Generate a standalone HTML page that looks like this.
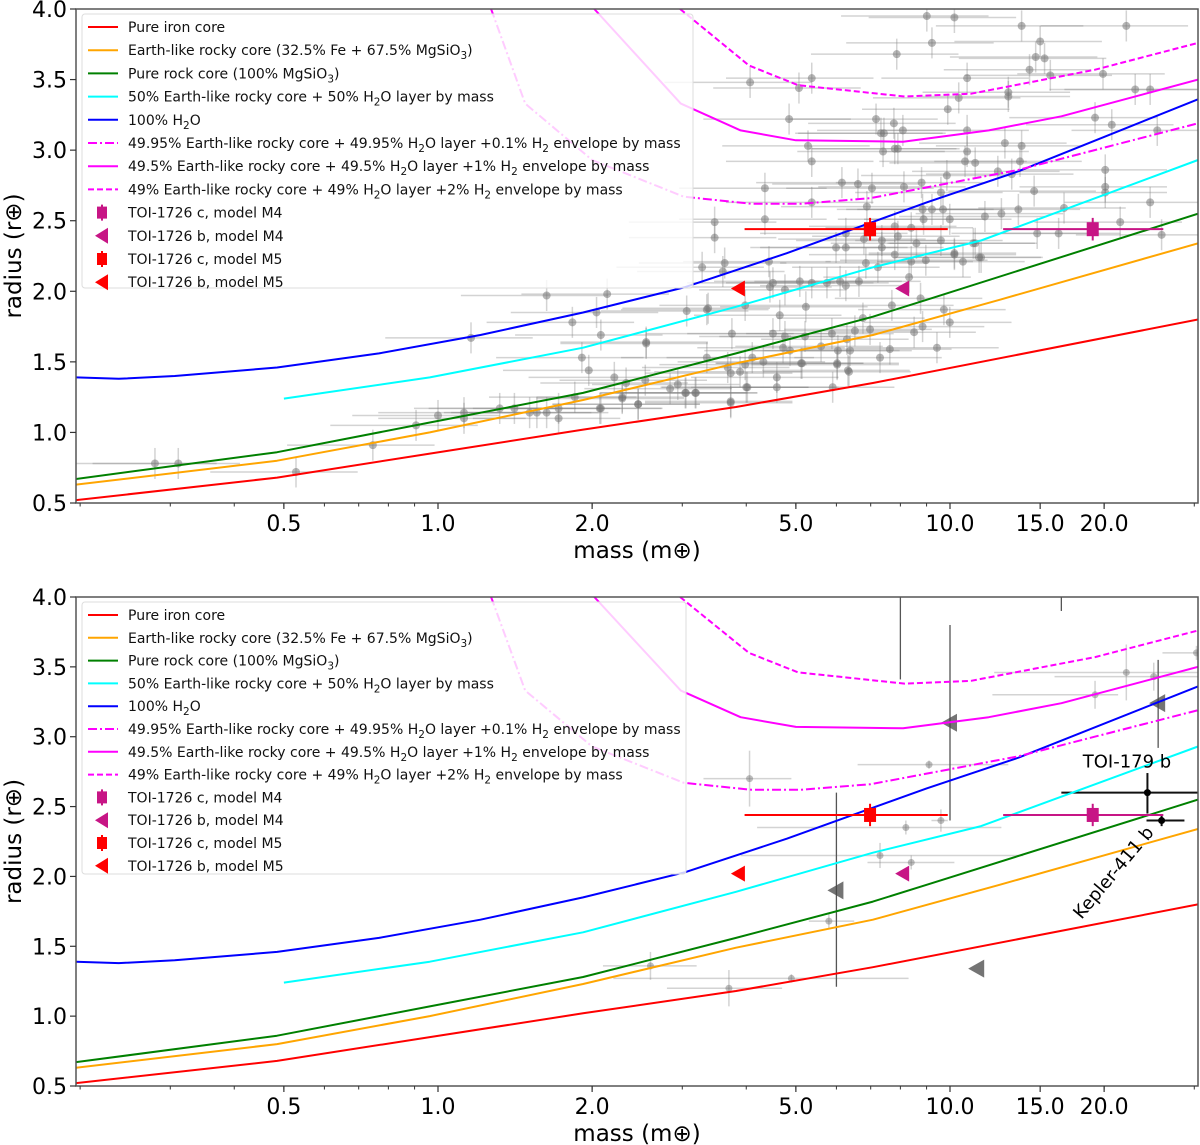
<!DOCTYPE html>
<html><head><meta charset="utf-8"><style>
html,body{margin:0;padding:0;background:#fff;}
svg{display:block;font-family:"DejaVu Sans","Liberation Sans",sans-serif;}
</style></head><body>
<svg id="chart" width="1200" height="1145" viewBox="0 0 1200 1145" xmlns="http://www.w3.org/2000/svg"></svg>
<script>
// ---------- data ----------
const xTickValues = [0.5, 1.0, 2.0, 5.0, 10.0, 15.0, 20.0];
const xTickLabels = ["0.5", "1.0", "2.0", "5.0", "10.0", "15.0", "20.0"];
const yTickValues = [0.5, 1.0, 1.5, 2.0, 2.5, 3.0, 3.5, 4.0];
const yTickLabels = ["0.5", "1.0", "1.5", "2.0", "2.5", "3.0", "3.5", "4.0"];

const ironMass = [0.196, 0.485, 0.964, 1.92, 3.82, 7.07, 30.5];
const ironRad = [0.52, 0.68, 0.85, 1.02, 1.18, 1.35, 1.80];
const earthMass = [0.196, 0.485, 0.964, 1.92, 3.82, 7.07, 12.5, 30.5];
const earthRad = [0.63, 0.80, 1.00, 1.23, 1.49, 1.69, 1.94, 2.34];
const rockMass = [0.196, 0.485, 0.964, 1.92, 3.82, 7.07, 9.0, 30.5];
const rockRad = [0.67, 0.86, 1.07, 1.28, 1.56, 1.82, 1.94, 2.55];
const halfMass = [0.5, 0.964, 1.92, 3.82, 7.07, 11.5, 30.5];
const halfRad = [1.24, 1.39, 1.60, 1.89, 2.17, 2.36, 2.93];
const waterMass = [0.196, 0.238, 0.306, 0.485, 0.767, 1.21, 1.92, 3.04, 4.80, 9.0, 13.6, 30.5];
const waterRad = [1.39, 1.38, 1.40, 1.46, 1.56, 1.69, 1.85, 2.03, 2.27, 2.63, 2.85, 3.36];
const h01Mass = [1.27, 1.48, 2.0, 3.02, 4.1, 5.1, 7.0, 13.6, 30.5];
const h01Rad = [4.0, 3.33, 2.93, 2.67, 2.62, 2.62, 2.66, 2.86, 3.19];
const h1Mass = [2.02, 2.98, 3.9, 5.0, 8.1, 11.9, 16.5, 30.5];
const h1Rad = [4.0, 3.33, 3.14, 3.07, 3.06, 3.14, 3.24, 3.50];
const h2Mass = [2.97, 4.05, 5.05, 8.15, 11.0, 19.2, 30.5];
const h2Rad = [4.0, 3.60, 3.46, 3.38, 3.40, 3.57, 3.76];

// TOI-1726 planets
const toiCMassM5 = 6.98, toiCMassM5Lo = 3.97, toiCMassM5Hi = 9.9, toiCRad = 2.44;
const toiCMassM4 = 19.0, toiCMassM4Lo = 12.7, toiCMassM4Hi = 26.1;
const toiBMassM5 = 3.87, toiBMassM4 = 8.1, toiBRad = 2.02;

// known planets (top panel)
const planetMass = [0.280,0.311,0.528,0.746,0.906,1.0,1.124,1.124,1.32,1.41,1.51,1.56,1.63,1.72,1.72,1.85,2.07,2.29,2.46,2.54,2.33,2.84,2.94,3.04,3.18,1.97,1.91,2.21,2.55,2.08,1.83,2.04,1.16,1.63,2.14,3.06,3.35,3.28,3.63,
3.73,4.0,4.59,4.59,5.14,5.90,6.32,6.02,3.35,
3.47,3.47,3.60,4.43,6.26,5.99,6.26,6.79,7.36,7.36,7.80,7.91,8.40,8.6,9.6,10.2,10.6,11.2,11.5,6.85,7.23,7.80,8.40,8.97,8.32,3.37,2.55,3.98,4.45,4.51,4.76,5.09,5.37,5.75,6.10,6.26,6.64,5.23,4.65,7.70,8.76,9.73,6.76,9.99,8.84,8.51,6.52,6.98,5.88,6.29,6.38,6.04,5.60,5.21,4.76,4.51,3.75,4.72,4.87,9.43,7.63,7.30,6.02,6.35,5.12,4.32,4.11,3.98,3.68,3.73,3.89,4.02,3.73,3.19,3.05,2.29,2.46,2.08,
9.01,10.2,9.22,7.87,4.07,5.37,5.07,13.8,15.0,14.7,15.3,14.3,15.7,22.1,19.9,23.0,24.6,10.8,10.4,9.90,13.0,13.0,4.85,7.17,7.77,8.09,7.33,7.43,10.8,5.28,5.37,7.40,7.80,7.91,10.8,10.7,11.2,12.8,13.8,13.7,12.4,13.2,19.2,20.7,25.4,20.1,20.1,20.1,24.6,21.5,14.8,16.3,25.9,16.7,14.6,13.6,12.6,11.7,11.4,11.1,10.2,9.86,9.6,8.80,8.13,7.04,6.61,6.15,4.35,4.35,5.37,6.88,8.84,8.88,9.22,9.69,9.99];
const planetRad = [0.78,0.78,0.72,0.91,1.05,1.12,1.14,1.10,1.17,1.17,1.14,1.14,1.14,1.17,1.10,1.25,1.17,1.25,1.20,1.37,1.35,1.31,1.34,1.28,1.28,1.44,1.53,1.39,1.63,1.69,1.78,1.85,1.67,1.97,1.98,1.86,1.87,2.17,2.20,
1.21,1.32,1.32,1.39,1.49,1.32,1.44,1.49,1.53,
2.49,2.38,2.14,2.21,2.41,2.31,2.31,2.37,2.36,2.31,2.46,2.39,2.45,2.34,2.36,2.27,2.21,2.34,2.24,2.20,2.17,2.26,2.21,2.22,2.10,1.88,1.64,1.90,2.03,2.06,2.01,2.07,2.06,2.06,2.07,2.04,2.07,1.89,1.83,1.90,1.95,1.87,1.81,1.78,1.75,1.71,1.72,1.73,1.70,1.66,1.58,1.58,1.61,1.68,1.68,1.70,1.70,1.60,1.58,1.60,1.59,1.53,1.48,1.43,1.49,1.50,1.53,1.48,1.46,1.42,1.43,1.32,1.22,1.28,1.28,1.24,1.20,1.17,
3.95,3.94,3.76,3.68,3.48,3.51,3.44,3.88,3.77,3.66,3.65,3.57,3.53,3.88,3.54,3.43,3.43,3.51,3.37,3.29,3.41,3.38,3.22,3.22,3.19,3.14,3.12,3.12,3.14,3.03,2.92,2.99,3.01,3.01,2.99,2.92,2.91,3.05,3.03,2.92,2.85,2.83,3.23,3.18,3.14,2.86,2.74,2.70,2.63,2.49,2.41,2.41,2.40,2.59,2.71,2.58,2.55,2.53,2.24,2.34,2.26,2.82,2.70,2.77,2.74,2.73,2.76,2.77,2.73,2.51,2.63,2.60,2.58,2.51,2.58,2.58,2.51];
const massErrFrac = 0.32;
const radErr = 0.11;

// bottom panel comparison planets
const compMass = [4.06, 9.1, 8.2, 9.6, 7.3, 8.4, 5.8, 2.6, 4.9, 3.7, 22.1, 25.0, 19.2, 30.3];
const compRad = [2.70, 2.80, 2.35, 2.40, 2.15, 2.10, 1.68, 1.36, 1.27, 1.20, 3.46, 3.43, 3.30, 3.60];
const compMassLo = [3.3, 6.6, 4.2, 9.2, 3.9, 6.9, 5.3, 2.1, 2.2, 2.8, 12.2, 16.0, 12.1, 26.0];
const compMassHi = [4.9, 13.0, 12.6, 9.9, 13.9, 10.2, 6.5, 3.2, 8.3, 4.7, 30.5, 30.5, 21.3, 30.5];
const compRadErr = [0.2, 0.03, 0.05, 0.08, 0.09, 0.05, 0.05, 0.1, 0.03, 0.13, 0.2, 0.1, 0.1, 0.05];
const triMass = [10.0, 25.5, 6.0, 11.3];
const triRad = [3.10, 3.24, 1.90, 1.34];
const triRadLo = [2.40, 2.92, 1.21, 1.34];
const triRadHi = [3.80, 3.55, 2.60, 1.34];
const toi179Mass = 24.3, toi179MassLo = 16.5, toi179MassHi = 30.5, toi179Rad = 2.60, toi179RadLo = 2.45, toi179RadHi = 2.74;
const k411Mass = 25.9, k411MassLo = 24.2, k411MassHi = 28.7, k411Rad = 2.40, k411RadLo = 2.36, k411RadHi = 2.44;

// ---------- drawing ----------
const NS = "http://www.w3.org/2000/svg";
const svg = document.getElementById("chart");
const X0 = 76, X1 = 1198, XONE = 438, DEC = 512;
function xs(m){ return XONE + DEC*Math.log10(m); }
function mk(tag, attrs, parent){
  const e = document.createElementNS(NS, tag);
  for (const k in attrs) e.setAttribute(k, attrs[k]);
  (parent||svg).appendChild(e);
  return e;
}

function drawPanel(top, bottom, panelName, isTop){
  const ys = r => bottom - (r - 0.5) * (bottom - top) / 3.5;
  const g = mk("g", {});
  
  
  const clipId = "clip-" + panelName;
  const cp = mk("clipPath", {id: clipId}, g);
  mk("rect", {x: X0, y: top, width: X1 - X0, height: bottom - top}, cp);
  const plot = mk("g", {"clip-path": "url(#" + clipId + ")"}, g);

  function errH(m1, m2, r, color, w, parent){ return mk("line", {x1: xs(m1), x2: xs(m2), y1: ys(r), y2: ys(r), stroke: color, "stroke-width": w}, parent); }
  function errV(m, r1, r2, color, w, parent){ return mk("line", {x1: xs(m), x2: xs(m), y1: ys(r1), y2: ys(r2), stroke: color, "stroke-width": w}, parent); }

  const pts = mk("g", {}, plot);
  
  
  if (isTop){
    for (let i = 0; i < planetMass.length; i++){
      const m = planetMass[i], r = planetRad[i];
      errH(m*(1-massErrFrac), m*(1+massErrFrac), r, "rgba(128,128,128,0.35)", 1.5, pts);
      errV(m, r - radErr, r + radErr, "rgba(128,128,128,0.35)", 1.5, pts);
      const c = mk("circle", {cx: xs(m), cy: ys(r), r: 4, fill: "rgba(110,110,110,0.5)"}, pts);
      
      
    }
  } else {
    for (let i = 0; i < compMass.length; i++){
      const m = compMass[i], r = compRad[i];
      errH(compMassLo[i], compMassHi[i], r, "rgba(128,128,128,0.35)", 1.5, pts);
      errV(m, r - compRadErr[i], r + compRadErr[i], "rgba(128,128,128,0.35)", 1.5, pts);
      const c = mk("circle", {cx: xs(m), cy: ys(r), r: 3.5, fill: "rgba(110,110,110,0.45)"}, pts);
      
      
    }
    errV(8.0, 4.2, 3.41, "#555", 1.3, pts);
    errV(16.5, 4.2, 3.9, "#555", 1.3, pts);
    for (let i = 0; i < triMass.length; i++){
      if (triRadLo[i] !== triRadHi[i]) errV(triMass[i], triRadLo[i], triRadHi[i], "#555", 1.3, pts);
      const x = xs(triMass[i]), y = ys(triRad[i]);
      const t = mk("polygon", {points: (x-9)+","+y+" "+(x+7)+","+(y-9)+" "+(x+7)+","+(y+9), fill: "rgba(70,70,70,0.75)"}, pts);
      
      
    }
    errH(toi179MassLo, toi179MassHi, toi179Rad, "#111", 2, pts);
    errV(toi179Mass, toi179RadLo, toi179RadHi, "#111", 2, pts);
    const p1 = mk("circle", {cx: xs(toi179Mass), cy: ys(toi179Rad), r: 3.5, fill: "#000"}, pts);
    
    
    errH(k411MassLo, k411MassHi, k411Rad, "#111", 2, pts);
    errV(k411Mass, k411RadLo, k411RadHi, "#111", 2, pts);
    const p2 = mk("circle", {cx: xs(k411Mass), cy: ys(k411Rad), r: 3.5, fill: "#000"}, pts);
    
    
  }

  const curves = [
    [ironMass, ironRad, "red", "", "curve-iron-core"],
    [earthMass, earthRad, "orange", "", "curve-earth-like"],
    [rockMass, rockRad, "green", "", "curve-pure-rock"],
    [halfMass, halfRad, "cyan", "", "curve-half-water"],
    [waterMass, waterRad, "blue", "", "curve-pure-water"],
    [h01Mass, h01Rad, "magenta", "9,3,2,3", "curve-h2-0p1"],
    [h1Mass, h1Rad, "magenta", "", "curve-h2-1"],
    [h2Mass, h2Rad, "magenta", "6,3", "curve-h2-2"]
  ];
  curves.forEach(c => {
    const d = c[0].map((m, i) => (i ? "L" : "M") + xs(m).toFixed(1) + "," + ys(c[1][i]).toFixed(1)).join(" ");
    const p = mk("path", {d: d, fill: "none", stroke: c[2], "stroke-width": 2, "stroke-linejoin": "round", "stroke-dasharray": c[3] || "none"}, plot);
    
    
  });

  const tm = mk("g", {}, plot);
  
  
  errH(toiCMassM5Lo, toiCMassM5Hi, toiCRad, "red", 2, tm);
  errV(toiCMassM5, toiCRad - 0.08, toiCRad + 0.08, "red", 2, tm);
  const sq1 = mk("rect", {x: xs(toiCMassM5) - 6, y: ys(toiCRad) - 7, width: 12, height: 14, fill: "red"}, tm);
  
  
  errH(toiCMassM4Lo, toiCMassM4Hi, toiCRad, "mediumvioletred", 2, tm);
  errV(toiCMassM4, toiCRad - 0.08, toiCRad + 0.08, "mediumvioletred", 2, tm);
  const sq2 = mk("rect", {x: xs(toiCMassM4) - 6, y: ys(toiCRad) - 7, width: 12, height: 14, fill: "mediumvioletred"}, tm);
  
  
  [[toiBMassM5, "red", "toi-1726b-m5"], [toiBMassM4, "mediumvioletred", "toi-1726b-m4"]].forEach(b => {
    const x = xs(b[0]), y = ys(toiBRad);
    const t = mk("polygon", {points: (x-8)+","+y+" "+(x+6)+","+(y-8)+" "+(x+6)+","+(y+8), fill: b[1]}, tm);
    
    
  });

  mk("rect", {x: X0, y: top, width: X1 - X0, height: bottom - top, fill: "none", stroke: "#555", "stroke-width": 1.5}, g);

  yTickValues.forEach((v, i) => {
    const y = ys(v);
    mk("line", {x1: X0 - 6, x2: X0, y1: y, y2: y, stroke: "#333", "stroke-width": 1.2}, g);
    const t = mk("text", {x: X0 - 9, y: y + 8, "text-anchor": "end", "font-size": 22, fill: "#000"}, g);
    t.textContent = yTickLabels[i];
    
    
  });
  for (let d = -1; d <= 1; d++){
    for (let k = 1; k <= 9; k++){
      const m = k * Math.pow(10, d);
      const x = xs(m);
      if (x < X0 || x > X1) continue;
      mk("line", {x1: x, x2: x, y1: bottom, y2: bottom + 3.5, stroke: "#333", "stroke-width": 1}, g);
    }
  }
  xTickValues.forEach((v, i) => {
    const x = xs(v);
    mk("line", {x1: x, x2: x, y1: bottom, y2: bottom + 6, stroke: "#333", "stroke-width": 1.2}, g);
    const t = mk("text", {x: x, y: bottom + 28, "text-anchor": "middle", "font-size": 22, fill: "#000"}, g);
    t.textContent = xTickLabels[i];
    
    
  });
  const xt = mk("text", {x: 637, y: bottom + 55, "text-anchor": "middle", "font-size": 23, fill: "#000"}, g);
  xt.textContent = "mass (m\u2295)";
  
  
  const yt = mk("text", {x: 0, y: 0, "text-anchor": "middle", "font-size": 23, fill: "#000", transform: "translate(21," + ((top + bottom) / 2) + ") rotate(-90)"}, g);
  yt.textContent = "radius (r\u2295)";
  
  

  const lg = mk("g", {}, g);
  
  
  const lx = 82, ly = top + 5, lw = isTop ? 611 : 604, lh = isTop ? 274 : 272;
  mk("rect", {x: lx, y: ly, width: lw, height: lh, rx: 3, fill: "rgba(255,255,255,0.8)", stroke: "#ddd", "stroke-width": 1}, lg);
  const entries = [
    ["line", "red", "", "Pure iron core"],
    ["line", "orange", "", "Earth-like rocky core (32.5% Fe + 67.5% MgSiO<tspan font-size='10.5' dy='4'>3</tspan><tspan dy='-4'>)</tspan>"],
    ["line", "green", "", "Pure rock core (100% MgSiO<tspan font-size='10.5' dy='4'>3</tspan><tspan dy='-4'>)</tspan>"],
    ["line", "cyan", "", "50% Earth-like rocky core + 50% H<tspan font-size='10.5' dy='4'>2</tspan><tspan dy='-4'>O layer by mass</tspan>"],
    ["line", "blue", "", "100% H<tspan font-size='10.5' dy='4'>2</tspan><tspan dy='-4'>O</tspan>"],
    ["line", "magenta", "9,3,2,3", "49.95% Earth-like rocky core + 49.95% H<tspan font-size='10.5' dy='4'>2</tspan><tspan dy='-4'>O layer +0.1% H</tspan><tspan font-size='10.5' dy='4'>2</tspan><tspan dy='-4'> envelope by mass</tspan>"],
    ["line", "magenta", "", "49.5% Earth-like rocky core + 49.5% H<tspan font-size='10.5' dy='4'>2</tspan><tspan dy='-4'>O layer +1% H</tspan><tspan font-size='10.5' dy='4'>2</tspan><tspan dy='-4'> envelope by mass</tspan>"],
    ["line", "magenta", "6,3", "49% Earth-like rocky core + 49% H<tspan font-size='10.5' dy='4'>2</tspan><tspan dy='-4'>O layer +2% H</tspan><tspan font-size='10.5' dy='4'>2</tspan><tspan dy='-4'> envelope by mass</tspan>"],
    ["sq", "mediumvioletred", "", "TOI-1726 c, model M4"],
    ["tri", "mediumvioletred", "", "TOI-1726 b, model M4"],
    ["sq", "red", "", "TOI-1726 c, model M5"],
    ["tri", "red", "", "TOI-1726 b, model M5"]
  ];
  const step = isTop ? 23.2 : 22.8;
  entries.forEach((e, i) => {
    const cy = ly + 13 + i * step;
    const eg = mk("g", {}, lg);
    
    
    if (e[0] === "line"){
      mk("line", {x1: 88, x2: 118, y1: cy, y2: cy, stroke: e[1], "stroke-width": 2, "stroke-dasharray": e[2] || "none"}, eg);
    } else if (e[0] === "sq"){
      mk("line", {x1: 102, x2: 102, y1: cy - 8, y2: cy + 8, stroke: e[1], "stroke-width": 2}, eg);
      mk("rect", {x: 97, y: cy - 6, width: 10, height: 12, fill: e[1]}, eg);
    } else {
      mk("polygon", {points: "95," + cy + " 108," + (cy - 8) + " 108," + (cy + 8), fill: e[1]}, eg);
    }
    const t = mk("text", {x: 128, y: cy + 5, "font-size": 14, fill: "#111"}, eg);
    t.innerHTML = e[3];
  });

  if (!isTop){
    const a = mk("text", {x: 1127, y: ys(2.78), "text-anchor": "middle", "font-size": 18, fill: "#000"}, g);
    a.textContent = "TOI-179 b";
    
    
    const b = mk("text", {x: 0, y: 0, "text-anchor": "middle", "font-size": 18, fill: "#000", transform: "translate(1118," + (ys(2.0)) + ") rotate(-50)"}, g);
    b.textContent = "Kepler-411 b";
    
    
  }
}
drawPanel(9, 503, "top-panel", true);
drawPanel(597, 1086, "bottom-panel", false);
</script>
</body></html>
